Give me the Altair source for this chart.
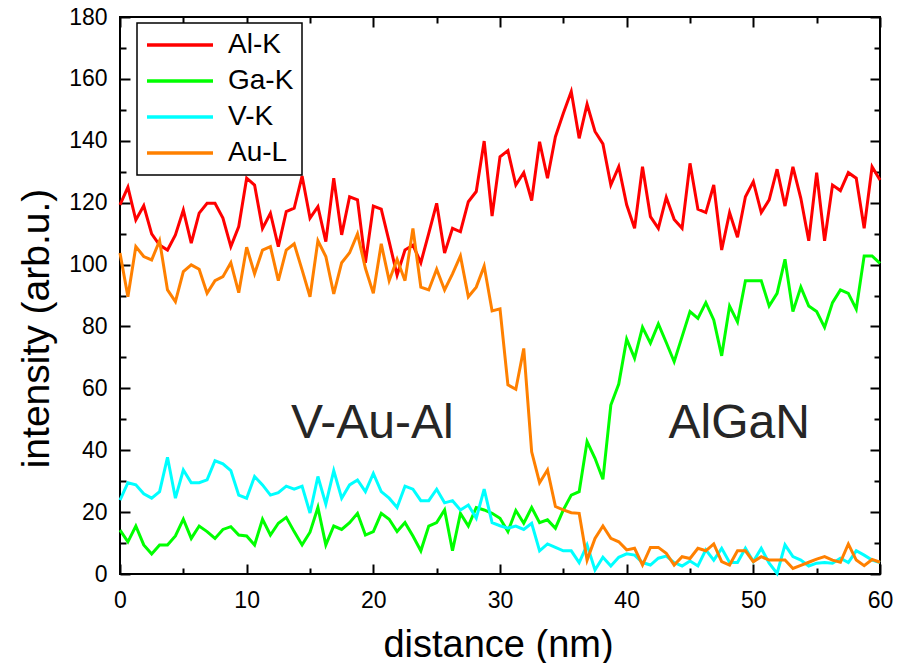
import altair as alt
import pandas as pd

# ---------------- data ----------------
step_nm = 0.625  # sampling step along the line scan

series_names = ["Al-K", "Ga-K", "V-K", "Au-L"]
series_colors = ["#ff0000", "#00ff00", "#00ffff", "#ff8000"]

al_k = [119.3, 125.0, 114.4, 119.0, 109.9, 106.3, 104.7, 109.6, 117.6, 106.9,
        116.6, 119.8, 119.8, 115.0, 105.8, 112.3, 127.9, 125.7, 111.7, 116.6,
        105.8, 117.1, 118.2, 128.6, 115.0, 118.7, 107.4, 127.9, 109.6, 121.9,
        120.9, 100.6, 118.9, 117.9, 107.4, 96.6, 104.7, 106.3, 100.6, 110.1,
        119.8, 103.7, 111.7, 110.6, 120.3, 123.6, 139.9, 115.7, 134.8, 136.8,
        125.7, 129.7, 120.7, 139.7, 127.9, 141.3, 148.9, 155.9, 140.8, 151.8,
        143.0, 139.0, 125.7, 131.6, 119.3, 111.7, 131.6, 115.5, 111.7, 121.7,
        114.6, 111.7, 132.7, 117.9, 116.8, 125.7, 104.7, 116.8, 108.8, 121.9,
        126.8, 116.8, 120.9, 130.8, 118.9, 131.6, 121.4, 107.7, 129.7, 107.7,
        125.7, 123.9, 129.7, 127.9, 111.7, 131.6, 127.3]

ga_k = [14.2, 10.4, 15.5, 9.4, 6.5, 9.4, 9.4, 12.3, 17.7, 11.5,
        15.5, 13.7, 11.5, 14.4, 15.3, 12.6, 12.3, 9.4, 17.7, 12.6,
        16.4, 18.3, 13.7, 9.4, 13.5, 21.5, 9.4, 15.5, 14.4, 16.6,
        19.6, 12.6, 13.7, 19.6, 17.7, 13.7, 16.6, 12.3, 7.5, 15.5,
        16.6, 20.7, 7.5, 19.6, 15.5, 21.5, 20.7, 19.6, 18.0, 13.7,
        20.5, 16.4, 21.5, 16.6, 17.5, 14.8, 20.7, 25.5, 26.6, 42.8,
        37.4, 30.6, 54.6, 61.4, 75.9, 69.7, 79.7, 74.6, 80.8, 74.8,
        68.6, 76.7, 84.8, 82.6, 87.7, 82.1, 70.5, 86.6, 81.5, 94.8,
        94.8, 94.8, 86.6, 90.7, 101.7, 84.8, 92.7, 86.6, 84.8, 79.7,
        87.7, 91.8, 90.7, 85.6, 102.8, 102.8, 100.4]

v_k = [23.9, 29.5, 28.8, 25.9, 24.5, 26.6, 37.7, 24.5, 33.6, 29.5,
       29.5, 30.4, 36.6, 35.6, 33.4, 25.5, 24.5, 31.5, 28.8, 25.5,
       26.3, 28.4, 27.4, 28.4, 19.7, 31.5, 22.6, 33.4, 24.5, 28.8,
       30.4, 26.6, 32.5, 26.6, 24.5, 21.5, 28.4, 27.4, 23.7, 23.7,
       27.4, 23.0, 23.7, 20.7, 22.3, 18.0, 27.4, 16.6, 15.6, 14.8,
       15.5, 14.4, 16.4, 7.5, 9.7, 8.6, 7.5, 7.5, 3.7, 9.4,
       1.3, 5.4, 2.6, 5.4, 6.5, 6.1, 3.7, 2.9, 5.1, 5.8,
       3.7, 2.6, 4.2, 2.6, 7.8, 4.5, 8.3, 3.7, 3.7, 8.3,
       4.0, 8.3, 3.5, 0.2, 9.4, 5.6, 4.5, 2.6, 3.5, 3.7,
       3.5, 5.1, 3.7, 7.5, 6.1, 4.5, 3.7]

au_l = [103.7, 89.6, 105.8, 102.6, 101.5, 107.7, 91.8, 88.0, 97.7, 99.9,
        98.5, 90.7, 94.8, 96.1, 100.6, 90.9, 105.6, 97.0, 104.7, 105.8,
        94.8, 104.7, 106.7, 98.3, 89.6, 107.7, 102.6, 90.5, 100.6, 103.8,
        109.9, 98.8, 90.7, 106.7, 94.8, 101.7, 94.8, 111.7, 92.7, 91.8,
        98.5, 91.8, 97.0, 102.8, 89.6, 92.7, 99.5, 85.0, 85.7, 61.1,
        59.7, 72.9, 39.5, 29.5, 33.6, 21.8, 20.7, 19.8, 19.6, 4.5,
        11.5, 15.5, 11.5, 10.4, 7.8, 8.3, 2.9, 8.6, 8.6, 6.7,
        2.9, 5.6, 5.0, 8.3, 7.5, 9.7, 4.0, 2.9, 7.5, 7.5,
        4.0, 5.6, 4.5, 4.5, 4.5, 1.8, 2.8, 3.8, 4.8, 5.6,
        4.5, 3.8, 9.7, 4.5, 2.7, 4.7, 3.8]

x_major = [0, 10, 20, 30, 40, 50, 60]
x_minor = [5, 15, 25, 35, 45, 55]
y_major = [0, 20, 40, 60, 80, 100, 120, 140, 160, 180]
y_minor = [10, 30, 50, 70, 90, 110, 130, 150, 170]

ann_text = ["V-Au-Al", "AlGaN"]
ann_x = [13.5, 43.3]
ann_y = [43.9, 43.9]

# ---------------- tables ----------------
rows = []
for name, vals in zip(series_names, [al_k, ga_k, v_k, au_l]):
    for i, v in enumerate(vals):
        rows.append({"distance": i * step_nm, "intensity": v, "series": name})
df = pd.DataFrame(rows)
ann_df = pd.DataFrame({"x": ann_x, "y": ann_y, "label": ann_text})

# ---------------- styling ----------------
FONT = "Liberation Sans"
MAJ = 10
MIN = 6

xscale = alt.Scale(domain=[0, 60], nice=False, zero=False)
yscale = alt.Scale(domain=[0, 180], nice=False, zero=False)


def axis(orient, values, size, labels=False, pad=0, **extra):
    return alt.Axis(
        orient=orient, values=values, tickSize=size, offset=-size,
        domain=False, grid=False, labels=labels, ticks=True,
        tickColor="black", tickWidth=2, labelFlush=False, labelOverlap=False,
        labelFont=FONT, labelFontSize=23, labelColor="black", labelPadding=pad,
        format="d", **extra)


x_main = axis("bottom", x_major, MAJ, labels=True, pad=15,
              title="distance (nm)", titleFont=FONT, titleFontSize=38,
              titleFontWeight="normal", titleColor="black",
              titleBaseline="alphabetic", titleAlign="center",
              titleX=378, titleY=92)
y_main = axis("left", y_major, MAJ, labels=True, pad=13,
              title="intensity (arb.u.)", titleFont=FONT, titleFontSize=39,
              titleFontWeight="normal", titleColor="black",
              titleBaseline="alphabetic", titleAlign="center", titleAngle=270,
              titleX=-81.7, titleY=311)

legend = alt.Legend(
    title=None, orient="none", legendX=17, legendY=6,
    strokeColor="black", fillColor="white", padding=8, cornerRadius=0,
    symbolType="M-3,0H3", symbolSize=484, symbolStrokeWidth=3.5,
    symbolOffset=21, labelOffset=34, rowPadding=8,
    labelFont=FONT, labelFontSize=28, labelColor="black")

lines = alt.Chart(df).mark_line(strokeWidth=3).encode(
    x=alt.X("distance:Q", scale=xscale, axis=x_main),
    y=alt.Y("intensity:Q", scale=yscale, axis=y_main),
    color=alt.Color("series:N",
                    scale=alt.Scale(domain=series_names, range=series_colors),
                    legend=legend),
)


def ghost(xax, yax):
    return alt.Chart(df).mark_point(opacity=0).encode(
        x=alt.X("distance:Q", scale=xscale, axis=xax),
        y=alt.Y("intensity:Q", scale=yscale, axis=yax),
    )


g_minor_lb = ghost(axis("bottom", x_minor, MIN, title=None),
                   axis("left", y_minor, MIN, title=None))
g_major_tr = ghost(axis("top", x_major, MAJ, title=None),
                   axis("right", y_major, MAJ, title=None))
g_minor_tr = ghost(axis("top", x_minor, MIN, title=None),
                   axis("right", y_minor, MIN, title=None))

texts = alt.Chart(ann_df).mark_text(
    align="left", baseline="alphabetic", font=FONT, fontSize=48, color="#262626"
).encode(
    x=alt.X("x:Q", scale=xscale, axis=None),
    y=alt.Y("y:Q", scale=yscale, axis=None),
    text="label:N",
)

chart = alt.layer(lines, texts, g_minor_lb, g_major_tr, g_minor_tr).resolve_axis(
    x="independent", y="independent"
).properties(
    width=760, height=557,
    autosize=alt.AutoSizeParams(type="none"),
    padding={"left": 112, "top": 9, "right": 15, "bottom": 89},
    background="white",
).configure_view(stroke="black", strokeWidth=2).configure_legend(strokeWidth=1.5)

chart.save("out.html", embed_options={"renderer": "svg", "actions": False})
